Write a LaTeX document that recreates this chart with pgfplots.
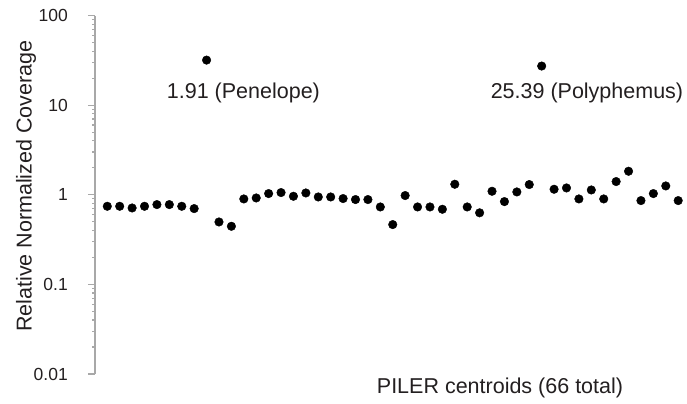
\documentclass[border=0pt]{standalone}
\usepackage{fontspec}
\setmainfont{Liberation Sans}
\usepackage{pgfplots}
\pgfplotsset{compat=1.18}
\definecolor{axisgray}{HTML}{A8A8A8}
\definecolor{ink}{HTML}{231F20}

\begin{document}
\begin{tikzpicture}
\begin{axis}[
    scale only axis,
    width=592pt, height=358.5pt,
    ymode=log,
    ymin=0.01, ymax=100,
    xmin=-0.99, xmax=46.71,
    ytick={0.01,0.1,1,10,100},
    yticklabels={0.01,0.1,1,10,100},
    xtick=\empty,
    minor ytick={},
    axis y line*=left,
    axis x line=none,
    axis line style={axisgray, line width=1.2pt},
    tick style={axisgray, line width=1.2pt},
    major tick length=7pt,
    tick align=outside,
    /pgf/number format/assume math mode=true,
    yticklabel style={font=\fontsize{17.5}{21}\selectfont, text=ink, anchor=east, inner sep=0pt, xshift=-20pt},
    ylabel={Relative Normalized Coverage},
    ylabel style={font=\fontsize{21.5}{26}\selectfont, text=ink, at={(axis description cs:-0.1165,0.524)}, anchor=center},
    clip marker paths=true,
    clip bounding box=upper bound,
]
\addplot[only marks, mark=*, mark size=4.3pt, color=black] coordinates {
    (0,0.744)(1,0.744)(2,0.712)(3,0.744)(4,0.777)(5,0.777)(6,0.744)(7,0.701)
    (8,31.8)(9,0.497)(10,0.445)(11,0.898)(12,0.921)(13,1.031)(14,1.058)
    (15,0.962)(16,1.047)(17,0.945)(18,0.945)(19,0.907)(20,0.884)(21,0.884)
    (22,0.731)(23,0.465)(24,0.980)(25,0.731)(26,0.731)(27,0.689)(28,1.310)
    (29,0.731)(30,0.629)(31,1.094)(32,0.839)(33,1.075)(34,1.300)(35,27.3)
    (36,1.152)(37,1.191)(38,0.898)(39,1.131)(40,0.898)(41,1.404)(42,1.830)
    (43,0.861)(44,1.031)(45,1.254)(46,0.861)(47,1.04)
};
\node[font=\fontsize{21.5}{26}\selectfont, text=ink] at (axis cs:10.97,13.6) {1.91 (Penelope)};
\node[font=\fontsize{21.5}{26}\selectfont, text=ink] at (axis cs:38.65,13.6) {25.39 (Polyphemus)};
\end{axis}
\node[font=\fontsize{21.5}{26}\selectfont, text=ink, anchor=center] at ([xshift=405pt,yshift=-14pt]current axis.south west) {PILER centroids (66 total)};
\path ([xshift=-95pt,yshift=-29pt]current axis.south west) rectangle ([yshift=15.5pt]current axis.north east);
\end{tikzpicture}
\end{document}
